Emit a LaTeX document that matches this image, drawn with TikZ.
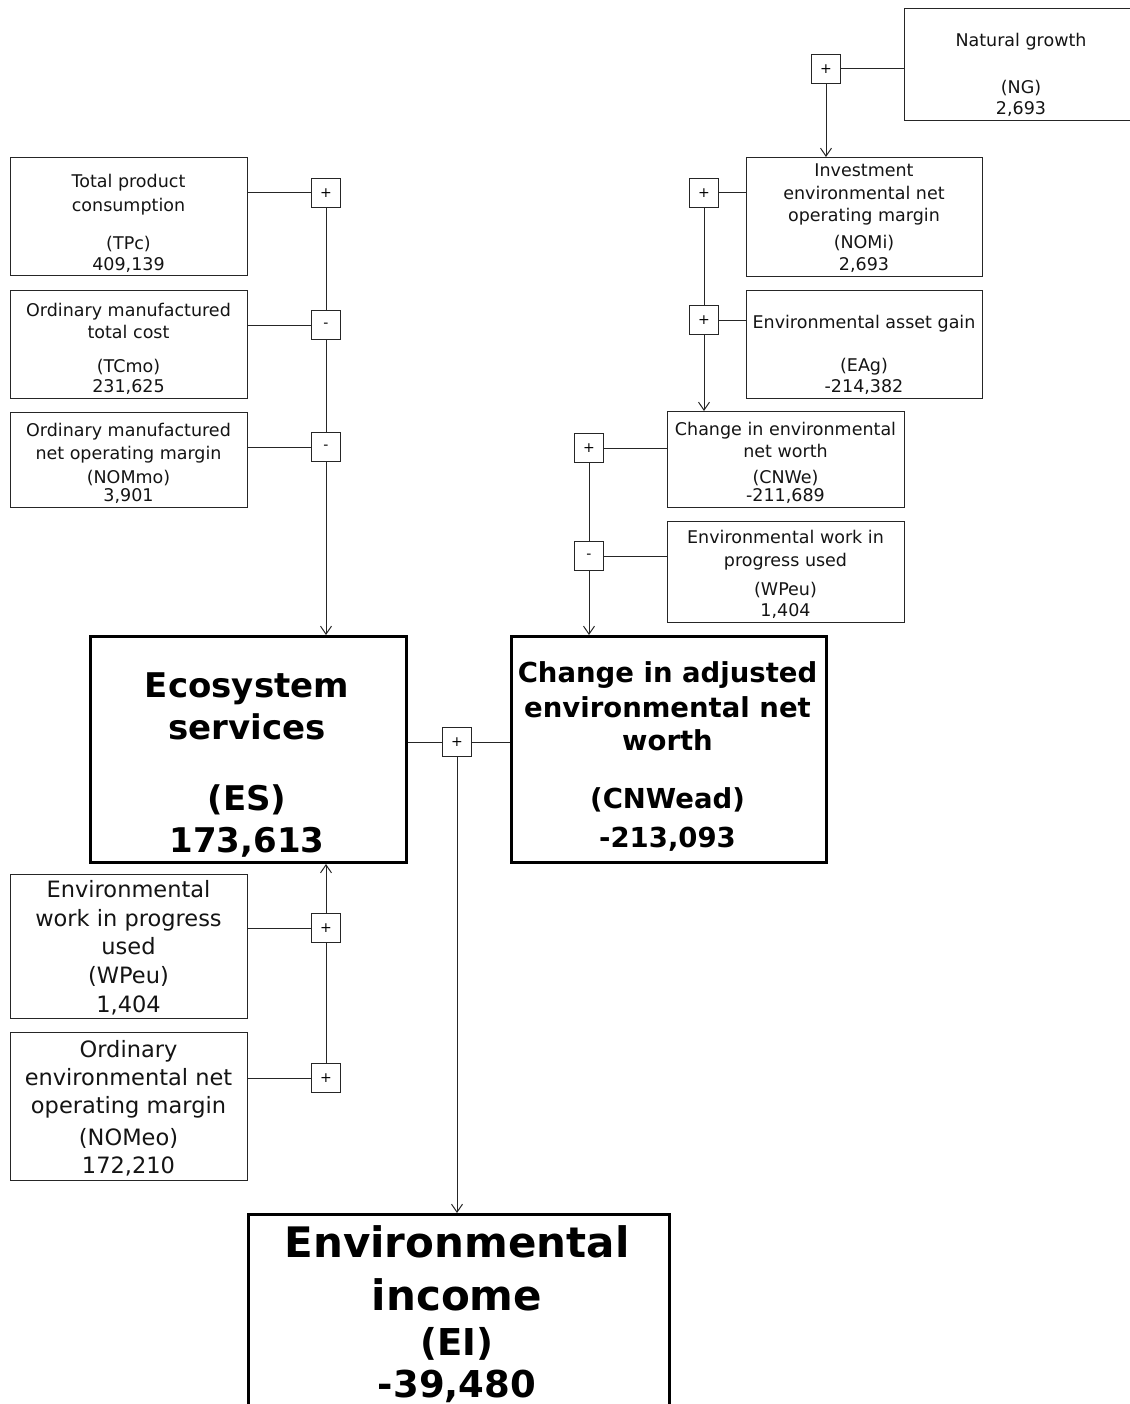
\documentclass[tikz,border=0pt]{standalone}
\usepackage{fontspec}
\setmainfont{DejaVu Sans}
\usetikzlibrary{arrows.meta}
\begin{document}
\begin{tikzpicture}[x=1pt,y=-1pt,
  thin/.style={draw=black!85, line width=1pt},
  sbox/.style={thin, rectangle, inner sep=0pt, anchor=north west},
  bbox/.style={draw=black, line width=3pt, rectangle, inner sep=0pt, anchor=north west},
  op/.style={thin, fill=white, minimum width=29pt, minimum height=29pt, inner sep=0pt, font=\fontsize{14}{14}\selectfont},
  st/.style={anchor=base, inner sep=0pt, text=black!92, font=\fontsize{17.5}{21}\selectfont},
  mt/.style={anchor=base, inner sep=0pt, text=black!92, font=\fontsize{22.5}{27}\selectfont},
  bes/.style={anchor=base, inner sep=0pt, font=\bfseries\fontsize{34}{40}\selectfont},
  bcn/.style={anchor=base, inner sep=0pt, font=\bfseries\fontsize{27.5}{33}\selectfont},
  bei/.style={anchor=base, inner sep=0pt, font=\bfseries\fontsize{42}{50}\selectfont},
  beis/.style={anchor=base, inner sep=0pt, font=\bfseries\fontsize{37}{44}\selectfont},
  conn/.style={thin},
  arr/.style={thin, -{Straight Barb[length=8pt,width=11pt]}}
]
\useasboundingbox (0,0) rectangle (1129,1404);

% ---------- boxes ----------
\node[sbox, minimum width=236pt, minimum height=112pt] (ng) at (904,8) {};
\node[sbox, minimum width=236pt, minimum height=119pt] (nomi) at (746,157) {};
\node[sbox, minimum width=236pt, minimum height=108pt] (eag) at (746,290) {};
\node[sbox, minimum width=237pt, minimum height=96pt] (cnwe) at (667,411) {};
\node[sbox, minimum width=237pt, minimum height=101pt] (wpr) at (667,521) {};
\node[sbox, minimum width=237pt, minimum height=118pt] (tpc) at (10,157) {};
\node[sbox, minimum width=237pt, minimum height=108pt] (tcmo) at (10,290) {};
\node[sbox, minimum width=237pt, minimum height=95pt] (nommo) at (10,412) {};
\node[sbox, minimum width=237pt, minimum height=144pt] (wpl) at (10,874) {};
\node[sbox, minimum width=237pt, minimum height=148pt] (nomeo) at (10,1032) {};
\node[bbox, minimum width=316pt, minimum height=226pt] (es) at (89,635) {};
\node[bbox, minimum width=315pt, minimum height=226pt] (cnwead) at (510,635) {};
\node[bbox, minimum width=421pt, minimum height=300pt] (ei) at (247,1213) {};

% ---------- texts ----------
\node[st] (ng1) at (1021,46.5) {Natural growth};
\node[st] (ng2) at (1021,94) {(NG)};
\node[st] (ng3) at (1021,115) {2,693};

\node[st] (nomi1) at (864,177) {Investment};
\node[st] (nomi2) at (864,199.5) {environmental net};
\node[st] (nomi3) at (864,222) {operating margin};
\node[st] (nomi4) at (864,249) {(NOMi)};
\node[st] (nomi5) at (864,270.5) {2,693};

\node[st] (eag1) at (864,328) {Environmental asset gain};
\node[st] (eag2) at (864,371.5) {(EAg)};
\node[st] (eag3) at (864,392.5) {-214,382};

\node[st] (cnwe1) at (785.5,435) {Change in environmental};
\node[st] (cnwe2) at (785.5,457) {net worth};
\node[st] (cnwe3) at (785.5,483) {(CNWe)};
\node[st] (cnwe4) at (785.5,501.5) {-211,689};

\node[st] (wpr1) at (785.5,543) {Environmental work in};
\node[st] (wpr2) at (785.5,566) {progress used};
\node[st] (wpr3) at (785.5,595) {(WPeu)};
\node[st] (wpr4) at (785.5,616.5) {1,404};

\node[st] (tpc1) at (128.5,188) {Total product};
\node[st] (tpc2) at (128.5,212) {consumption};
\node[st] (tpc3) at (128.5,250) {(TPc)};
\node[st] (tpc4) at (128.5,270.5) {409,139};

\node[st] (tcmo1) at (128.5,316.5) {Ordinary manufactured};
\node[st] (tcmo2) at (128.5,338) {total cost};
\node[st] (tcmo3) at (128.5,372.5) {(TCmo)};
\node[st] (tcmo4) at (128.5,392.5) {231,625};

\node[st] (nommo1) at (128.5,436) {Ordinary manufactured};
\node[st] (nommo2) at (128.5,459) {net operating margin};
\node[st] (nommo3) at (128.5,483) {(NOMmo)};
\node[st] (nommo4) at (128.5,501.5) {3,901};

\node[mt] (wpl1) at (128.5,897) {Environmental};
\node[mt] (wpl2) at (128.5,926) {work in progress};
\node[mt] (wpl3) at (128.5,954) {used};
\node[mt] (wpl4) at (128.5,983) {(WPeu)};
\node[mt] (wpl5) at (128.5,1012) {1,404};

\node[mt] (nomeo1) at (128.5,1057) {Ordinary};
\node[mt] (nomeo2) at (128.5,1085) {environmental net};
\node[mt] (nomeo3) at (128.5,1113) {operating margin};
\node[mt] (nomeo4) at (128.5,1145) {(NOMeo)};
\node[mt] (nomeo5) at (128.5,1173) {172,210};

\node[bes] (es1) at (247,697) {Ecosystem};
\node[bes] (es2) at (247,739) {services};
\node[bes] (es3) at (247,810) {(ES)};
\node[bes] (es4) at (247,852) {173,613};

\node[bcn] (cn1) at (667.5,682) {Change in adjusted};
\node[bcn] (cn2) at (667.5,717) {environmental net};
\node[bcn] (cn3) at (667.5,750) {worth};
\node[bcn] (cn4) at (667.5,808) {(CNWead)};
\node[bcn] (cn5) at (667.5,847) {-213,093};

\node[bei] (ei1) at (457,1257) {Environmental};
\node[bei] (ei2) at (457,1310) {income};
\node[beis] (ei3) at (457,1355) {(EI)};
\node[beis] (ei4) at (457,1397) {-39,480};

% ---------- operator boxes ----------
\node[op] (opng) at (826,69) {+};
\node[op] (opnomi) at (704,193) {+};
\node[op] (opeag) at (704,320) {+};
\node[op] (opcnwe) at (589,448) {+};
\node[op] (opwpr) at (589,556) {-};
\node[op] (optpc) at (326,193) {+};
\node[op] (optcmo) at (326,325) {-};
\node[op] (opnommo) at (326,447) {-};
\node[op] (opwpl) at (326,928) {+};
\node[op] (opnomeo) at (326,1078) {+};
\node[op] (opc) at (457,742) {+};

% ---------- connectors ----------
\draw[conn] (opng.east) -- (opng.east -| ng.west);
\draw[arr] (opng.south) -- (opng.south |- nomi.north);
\draw[conn] (opnomi.east) -- (opnomi.east -| nomi.west);
\draw[conn] (opeag.east) -- (opeag.east -| eag.west);
\draw[conn] (opnomi.south) -- (opeag.north);
\draw[arr] (opeag.south) -- (opeag.south |- cnwe.north);
\draw[conn] (opcnwe.east) -- (opcnwe.east -| cnwe.west);
\draw[conn] (opwpr.east) -- (opwpr.east -| wpr.west);
\draw[conn] (opcnwe.south) -- (opwpr.north);
\draw[arr] (opwpr.south) -- (opwpr.south |- cnwead.north);

\draw[conn] (optpc.west -| tpc.east) -- (optpc.west);
\draw[conn] (optcmo.west -| tcmo.east) -- (optcmo.west);
\draw[conn] (opnommo.west -| nommo.east) -- (opnommo.west);
\draw[conn] (optpc.south) -- (optcmo.north);
\draw[conn] (optcmo.south) -- (opnommo.north);
\draw[arr] (opnommo.south) -- (opnommo.south |- es.north);

\draw[conn] (opwpl.west -| wpl.east) -- (opwpl.west);
\draw[conn] (opnomeo.west -| nomeo.east) -- (opnomeo.west);
\draw[conn] (opnomeo.north) -- (opwpl.south);
\draw[arr] (opwpl.north) -- (opwpl.north |- es.south);

\draw[conn] (opc.west -| es.east) -- (opc.west);
\draw[conn] (opc.east) -- (opc.east -| cnwead.west);
\draw[arr] (opc.south) -- (opc.south |- ei.north);
\end{tikzpicture}
\end{document}
